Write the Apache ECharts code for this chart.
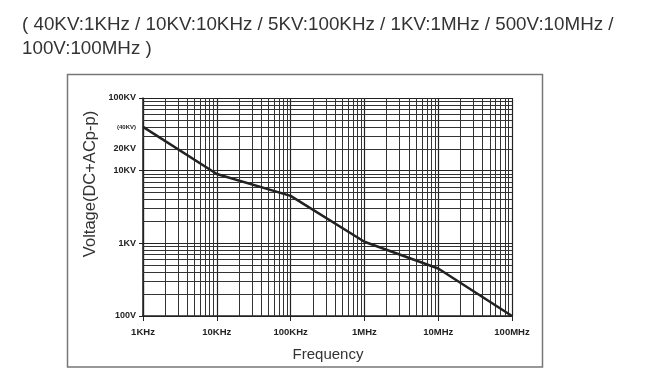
<!DOCTYPE html>
<html>
<head>
<meta charset="utf-8">
<script src="https://cdn.jsdelivr.net/npm/echarts@6/dist/echarts.min.js"></script>
<style>html,body{margin:0;padding:0;background:#fff}#c{width:645px;height:390px}</style>
</head>
<body>
<div id="c"></div>
<script>
var frequencies = [1e3, 1e4, 1e5, 1e6, 1e7, 1e8];
var voltages = [40000, 9000, 4500, 1050, 450, 100];
var xTickValues = [1e3, 1e4, 1e5, 1e6, 1e7, 1e8];
var xTickLabels = ['1KHz', '10KHz', '100KHz', '1MHz', '10MHz', '100MHz'];
var yTickValues = [100, 1000, 10000, 20000, 40000, 100000];
var yTickLabels = ['100V', '1KV', '10KV', '20KV', '(40KV)', '100KV'];

var chart = echarts.init(document.getElementById('c'));
var xMinor = [], yMinor = [];
for (var d = 1e3; d < 1e8; d *= 10) for (var k = 2; k <= 9; k++) xMinor.push({xAxis: d * k});
for (var e = 100; e < 1e5; e *= 10) for (var k2 = 2; k2 <= 9; k2++) yMinor.push({yAxis: e * k2});

var ff = 'Liberation Sans, Arial, sans-serif';
chart.setOption({
  animation: false,
  grid: {left: 143, right: 133, top: 98, bottom: 74},
  xAxis: {
    type: 'log', logBase: 10, min: 1e3, max: 1e8,
    axisLine: {lineStyle: {color: '#222', width: 1.5}},
    axisTick: {show: true, length: 5, lineStyle: {color: '#222'}},
    axisLabel: {margin: 11, color: '#222', fontSize: 9.5, fontWeight: 'bold', fontFamily: ff,
      formatter: function (v) { var i = xTickValues.indexOf(v); return i >= 0 ? xTickLabels[i] : ''; }},
    splitLine: {show: true, lineStyle: {color: '#222', width: 1.2}}
  },
  yAxis: {
    type: 'log', logBase: 10, min: 100, max: 1e5,
    axisLine: {show: true, lineStyle: {color: '#222', width: 1.5}},
    axisTick: {show: true, length: 4, lineStyle: {color: '#222'}},
    axisLabel: {margin: 7, color: '#222', fontSize: 9, fontWeight: 'bold', fontFamily: ff,
      customValues: yTickValues,
      formatter: function (v) { var i = yTickValues.indexOf(v); if (i < 0) return ''; return yTickLabels[i].charAt(0) === '(' ? '{s|' + yTickLabels[i] + '}' : yTickLabels[i]; },
      rich: {s: {fontSize: 6, fontWeight: 'bold', color: '#222', fontFamily: ff}}},
    splitLine: {show: true, lineStyle: {color: '#222', width: 1.2}}
  },
  series: [
    {
      type: 'line', data: [], z: 1, silent: true,
      markLine: {silent: true, symbol: 'none', animation: false, label: {show: false},
        lineStyle: {color: '#333', width: 1, type: 'solid'},
        data: xMinor.concat(yMinor)}
    },
    {
      type: 'line', z: 5, symbol: 'none',
      data: frequencies.map(function (f, i) { return [f, voltages[i]]; }),
      lineStyle: {color: '#222', width: 2.5}
    }
  ],
  graphic: [
    {type: 'rect', shape: {x: 67.5, y: 74.5, width: 475, height: 292.5}, style: {fill: 'none', stroke: '#777', lineWidth: 1.5}, z: 0},
    {type: 'text', x: 22, y: 13, style: {text: '( 40KV:1KHz / 10KV:10KHz / 5KV:100KHz / 1KV:1MHz / 500V:10MHz /\n100V:100MHz )', font: '18.8px ' + ff, fill: '#333', lineHeight: 24}},
    {type: 'text', x: 90, y: 184, rotation: Math.PI / 2, style: {text: 'Voltage(DC+ACp-p)', font: '16.5px ' + ff, fill: '#333', align: 'center', verticalAlign: 'middle'}},
    {type: 'text', x: 328, y: 355, style: {text: 'Frequency', font: '500 15px ' + ff, fill: '#333', align: 'center', verticalAlign: 'middle'}}
  ]
});
</script>
</body>
</html>
